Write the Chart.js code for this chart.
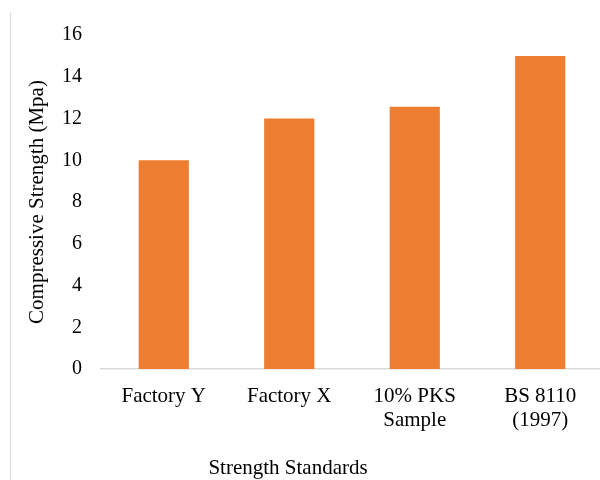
<!DOCTYPE html>
<html>
<head>
<meta charset="utf-8">
<script src="https://cdn.jsdelivr.net/npm/chart.js@4/dist/chart.umd.min.js"></script>
<style>
  html, body { margin: 0; padding: 0; background: #fff; overflow: hidden; }
  #wrap { position: relative; width: 600px; height: 480px; overflow: hidden; }
  #frame { position: absolute; left: 10px; top: 12px; height: 470px; border-left: 1.5px solid #d9d9d9; }
  canvas { position: absolute; left: 0; top: 0; }
</style>
</head>
<body>
<div id="wrap">
  <div id="frame"></div>
  <canvas id="c" width="604" height="480"></canvas>
</div>
<script>
// Compressive strength of each standard, in MPa
const categories = [
  'Factory Y',
  'Factory X',
  ['10% PKS', 'Sample'],
  ['BS 8110', '(1997)']
];
const strengthValues = [10, 12, 12.56, 15];
const yTicks = [0, 2, 4, 6, 8, 10, 12, 14, 16];

const serif = "'Liberation Serif', 'Times New Roman', serif";
const barColor = '#ED7D31';
const axisGrey = '#d9d9d9';

// Horizontal axis title, drawn beneath the category labels
const xTitlePlugin = {
  id: 'xTitle',
  afterDraw(chart) {
    const ctx = chart.ctx;
    ctx.save();
    ctx.font = '21px ' + serif;
    ctx.fillStyle = '#000';
    ctx.textAlign = 'center';
    ctx.textBaseline = 'middle';
    ctx.fillText('Strength Standards', 288, 468);
    ctx.restore();
  }
};

new Chart(document.getElementById('c'), {
  type: 'bar',
  data: {
    labels: categories,
    datasets: [{
      data: strengthValues,
      backgroundColor: barColor,
      borderWidth: 0,
      categoryPercentage: 1,
      barPercentage: 0.4
    }]
  },
  options: {
    responsive: false,
    maintainAspectRatio: false,
    animation: false,
    layout: { padding: { top: 35, left: 15, right: 1, bottom: 0 } },
    plugins: {
      legend: { display: false },
      tooltip: { enabled: false }
    },
    scales: {
      x: {
        grid: { drawOnChartArea: false, drawTicks: false, color: 'transparent' },
        border: { display: true, color: axisGrey, width: 1.5 },
        ticks: {
          color: '#000',
          font: { family: serif, size: 21, lineHeight: 1.12 },
          padding: 16,
          maxRotation: 0,
          autoSkip: false
        },
        afterFit(scale) { scale.height = 111; }
      },
      y: {
        min: 0,
        max: 16,
        afterBuildTicks(scale) { scale.ticks = yTicks.map(v => ({ value: v })); },
        grid: { display: false, drawTicks: false },
        border: { display: false },
        ticks: {
          color: '#000',
          font: { family: serif, size: 20 },
          padding: 19
        },
        title: {
          display: true,
          text: 'Compressive Strength (Mpa)',
          color: '#000',
          font: { family: serif, size: 21, lineHeight: 1.2 },
          padding: { top: 10, bottom: 0 }
        },
        afterFit(scale) { scale.width = 86; }
      }
    }
  },
  plugins: [xTitlePlugin]
});
</script>
</body>
</html>
